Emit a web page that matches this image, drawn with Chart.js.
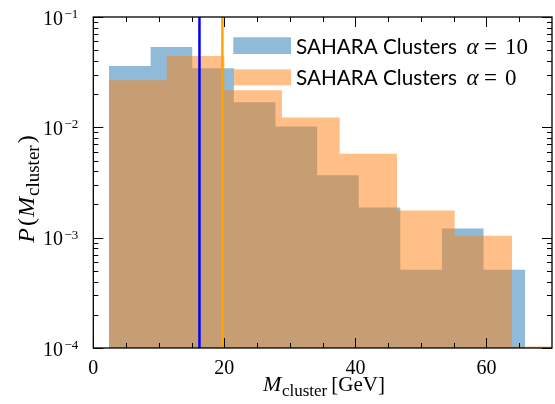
<!DOCTYPE html>
<html>
<head>
<meta charset="utf-8">
<script src="https://cdn.jsdelivr.net/npm/chart.js@4.4.1/dist/chart.umd.min.js"></script>
<style>
  html, body { margin: 0; padding: 0; background: #fff; }
  #wrap { width: 555px; height: 404px; }
</style>
</head>
<body>
<div id="wrap"><canvas id="massChart" width="555" height="404"></canvas></div>
<script>
// cluster mass histograms (bin edges in GeV, normalised probability per bin)
const alpha10Edges = [2.4, 8.75, 15.1, 21.45, 27.8, 34.15, 40.5, 46.85, 53.2, 59.55, 65.9];
const alpha10Values = [0.0359, 0.0534, 0.0344, 0.0169, 0.0102, 0.00367, 0.00188, 0.000512, 0.00121, 0.000512];
const alpha0Edges = [2.4, 11.2, 20.0, 28.8, 37.6, 46.35, 55.15, 63.9, 72.7];
const alpha0Values = [0.0267, 0.0442, 0.0217, 0.01225, 0.00577, 0.00176, 0.00104, 0.000103];

// vertical markers
const alpha10Marker = 16.2;
const alpha0Marker = 19.7;

const xMajorTicks = [0, 20, 40, 60];
const xMinorTicks = [5, 10, 15, 25, 30, 35, 45, 50, 55, 65];
const yDecades = [1e-4, 1e-3, 1e-2, 1e-1];
const yDecadeExponents = ['\u22124', '\u22123', '\u22122', '\u22121'];
const legendNames = ['SAHARA Clusters', 'SAHARA Clusters'];
const legendAlphas = ['10', '0'];

const BLUE_FILL = 'rgba(31, 119, 180, 0.5)';
const ORANGE_FILL = 'rgba(255, 127, 14, 0.5)';
const SERIF = '"Liberation Serif", "DejaVu Serif", serif';

// step outline for a histogram: each edge carries its bin value, the last edge closes the final bin
function histPoints(edges, values) {
    const pts = values.map((v, i) => ({ x: edges[i], y: v }));
    pts.push({ x: edges[edges.length - 1], y: values[values.length - 1] });
    return pts;
}

// draw a run of text pieces with their own fonts, starting at x
function drawParts(ctx, parts, x, y) {
    let cx = x;
    parts.forEach(p => {
        ctx.font = p.font;
        ctx.fillText(p.t, cx, y + (p.dy || 0));
        cx += ctx.measureText(p.t).width + (p.gap || 0);
    });
    return cx;
}

function partsWidth(ctx, parts) {
    let w = 0;
    parts.forEach(p => {
        ctx.font = p.font;
        w += ctx.measureText(p.t).width + (p.gap || 0);
    });
    return w;
}

const axisDecor = {
    id: 'axisDecor',
    afterDraw(chart) {
        const { ctx, chartArea: a, scales: { x, y } } = chart;
        ctx.save();
        ctx.strokeStyle = '#000';
        ctx.fillStyle = '#000';

        const seg = (x1, y1, x2, y2) => {
            ctx.beginPath();
            ctx.moveTo(x1, y1);
            ctx.lineTo(x2, y2);
            ctx.stroke();
        };

        // inward ticks on all four sides
        ctx.lineWidth = 1;
        xMajorTicks.forEach(v => {
            const px = Math.round(x.getPixelForValue(v)) + 0.5;
            seg(px, a.bottom, px, a.bottom - 10);
            seg(px, a.top, px, a.top + 10);
        });
        xMinorTicks.forEach(v => {
            const px = Math.round(x.getPixelForValue(v)) + 0.5;
            seg(px, a.bottom, px, a.bottom - 5);
            seg(px, a.top, px, a.top + 5);
        });
        yDecades.forEach((d, i) => {
            const py = Math.round(y.getPixelForValue(d)) + 0.5;
            seg(a.left, py, a.left + 10, py);
            seg(a.right, py, a.right - 10, py);
            if (i < yDecades.length - 1) {
                for (let k = 2; k <= 9; k++) {
                    const my = Math.round(y.getPixelForValue(k * d)) + 0.5;
                    seg(a.left, my, a.left + 5, my);
                    seg(a.right, my, a.right - 5, my);
                }
            }
        });

        // frame
        ctx.lineWidth = 1.3;
        ctx.strokeRect(a.left, a.top, a.right - a.left, a.bottom - a.top);

        // x tick labels
        ctx.textAlign = 'center';
        ctx.textBaseline = 'alphabetic';
        ctx.font = '20px ' + SERIF;
        xMajorTicks.forEach(v => {
            ctx.fillText(String(v), x.getPixelForValue(v), 374);
        });

        // y tick labels, 10 with a raised exponent
        ctx.textAlign = 'left';
        yDecades.forEach((d, i) => {
            const py = y.getPixelForValue(d);
            ctx.font = '20px ' + SERIF;
            ctx.fillText('10', 43, py + 7.5);
            const w = ctx.measureText('10').width;
            ctx.font = '13px ' + SERIF;
            ctx.fillText(yDecadeExponents[i], 43 + w + 1.5, py + 1);
        });

        // x axis title
        const xTitle = [
            { t: 'M', font: 'italic 22px ' + SERIF, gap: 0.5 },
            { t: 'cluster', font: '17px ' + SERIF, dy: 4.5, gap: 4 },
            { t: '[GeV]', font: '21px ' + SERIF }
        ];
        drawParts(ctx, xTitle, 324 - partsWidth(ctx, xTitle) / 2, 391);

        // y axis title, rotated
        const yTitle = [
            { t: 'P', font: 'italic 24px ' + SERIF, gap: 2 },
            { t: '(', font: '24px ' + SERIF, gap: 1 },
            { t: 'M', font: 'italic 24px ' + SERIF, gap: 1 },
            { t: 'cluster', font: '19px ' + SERIF, dy: 4.5, gap: 2 },
            { t: ')', font: '24px ' + SERIF }
        ];
        ctx.save();
        ctx.translate(34, 189);
        ctx.rotate(-Math.PI / 2);
        drawParts(ctx, yTitle, -partsWidth(ctx, yTitle) / 2, 0);
        ctx.restore();

        // legend
        const rows = [
            { fill: BLUE_FILL, top: 37.3, h: 16.7, base: 53.5 },
            { fill: ORANGE_FILL, top: 69.3, h: 16, base: 85 }
        ];
        ctx.font = '22px Lato';
        const nameSize = 22 * 161 / ctx.measureText(legendNames[0]).width;
        rows.forEach((r, i) => {
            ctx.fillStyle = r.fill;
            ctx.fillRect(233.3, r.top, 57.7, r.h);
            ctx.fillStyle = '#000';
            ctx.font = nameSize.toFixed(2) + 'px Lato';
            ctx.fillText(legendNames[i], 296, r.base);
            ctx.font = 'italic 23px ' + SERIF;
            ctx.fillText('\u03b1', 466.5, r.base);
            ctx.font = '23px ' + SERIF;
            ctx.fillText('=', 484, r.base);
            ctx.fillText(legendAlphas[i], 505, r.base);
        });

        ctx.restore();
    }
};

const ctx = document.getElementById('massChart').getContext('2d');
new Chart(ctx, {
    type: 'line',
    data: {
        datasets: [
            {
                label: 'alpha10 marker',
                data: [{ x: alpha10Marker, y: 1e-4 }, { x: alpha10Marker, y: 1e-1 }],
                borderColor: '#0000ff',
                borderWidth: 2.5,
                pointRadius: 0,
                fill: false,
                order: 0
            },
            {
                label: 'alpha0 marker',
                data: [{ x: alpha0Marker, y: 1e-4 }, { x: alpha0Marker, y: 1e-1 }],
                borderColor: '#ffa500',
                borderWidth: 2.5,
                pointRadius: 0,
                fill: false,
                order: 0
            },
            {
                label: 'SAHARA Clusters alpha = 0',
                data: histPoints(alpha0Edges, alpha0Values),
                stepped: true,
                borderColor: 'rgba(0,0,0,0)',
                borderWidth: 0,
                backgroundColor: ORANGE_FILL,
                pointRadius: 0,
                fill: 'start',
                order: 1
            },
            {
                label: 'SAHARA Clusters alpha = 10',
                data: histPoints(alpha10Edges, alpha10Values),
                stepped: true,
                borderColor: 'rgba(0,0,0,0)',
                borderWidth: 0,
                backgroundColor: BLUE_FILL,
                pointRadius: 0,
                fill: 'start',
                order: 2
            }
        ]
    },
    options: {
        responsive: false,
        devicePixelRatio: 1,
        animation: false,
        layout: { padding: { top: 17, right: 3, left: 0, bottom: 0 } },
        scales: {
            x: {
                type: 'linear',
                min: 0,
                max: 70,
                grid: { display: false },
                border: { display: false },
                ticks: { display: false },
                afterFit: scale => { scale.height = 56; }
            },
            y: {
                type: 'logarithmic',
                min: 1e-4,
                max: 1e-1,
                grid: { display: false },
                border: { display: false },
                ticks: { display: false },
                afterFit: scale => { scale.width = 93.3; }
            }
        },
        plugins: {
            legend: { display: false },
            tooltip: { enabled: false }
        }
    },
    plugins: [axisDecor]
});
</script>
</body>
</html>
